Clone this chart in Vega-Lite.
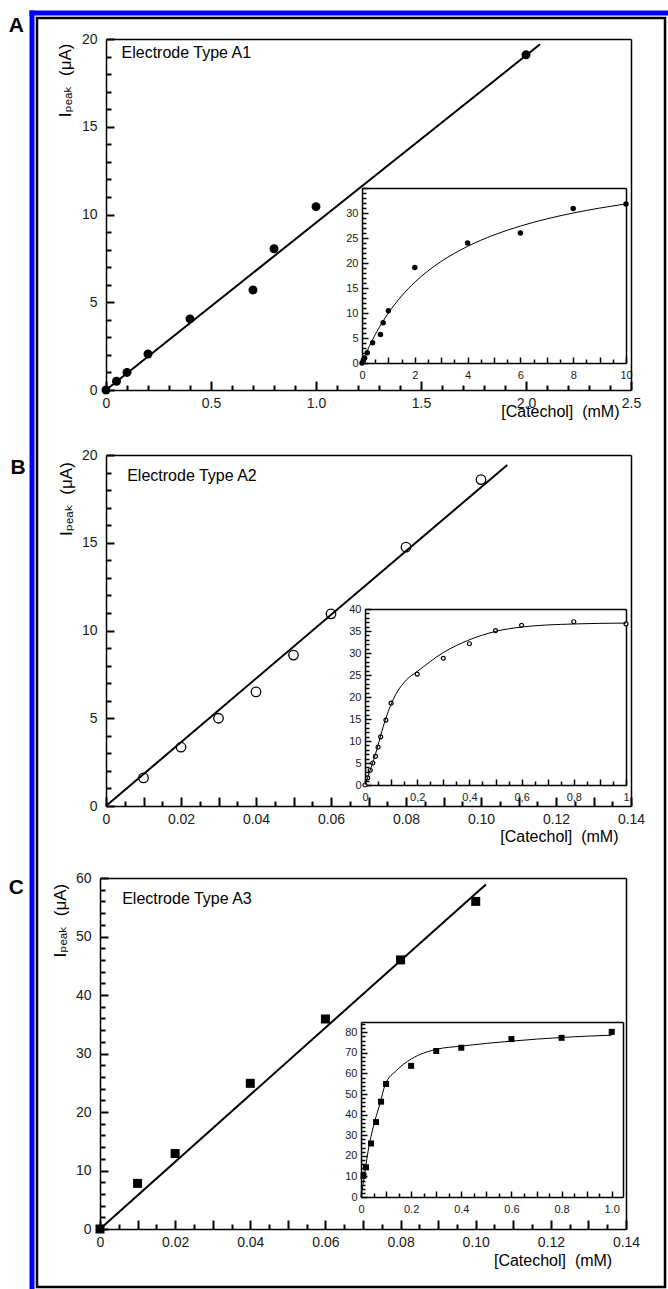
{
  "$schema": "https://vega.github.io/schema/vega-lite/v6.json",
  "width": 628,
  "height": 1269,
  "padding": {"left": 37, "top": 18, "right": 3, "bottom": 2},
  "autosize": {"type": "none"},
  "background": "white",
  "config": {
    "view": {"stroke": "#000", "strokeWidth": 2.5},
    "axis": {"grid": false, "domainColor": "#000", "domainWidth": 1.5, "labelFont": "Liberation Sans", "labelColor": "#1a1a1a", "labelFlush": false, "labelOverlap": false, "labelBound": false, "titleFont": "Liberation Sans", "titleFontWeight": "normal", "titleColor": "#000"}
  },
  "resolve": {"scale": {"x": "independent", "y": "independent"}, "axis": {"x": "independent", "y": "independent"}},
  "layer": [
    {
      "data": {"values": [{"c": 0, "i": 0}, {"c": 2.067, "i": 19.7}]},
      "mark": {"type": "line", "opacity": 0},
      "encoding": {
        "x": {"field": "c", "type": "quantitative", "scale": {"domain": [0, 1], "range": [-5.5, 631], "nice": false, "zero": false},
          "axis": {"orient": "top", "offset": 5.5, "ticks": false, "labels": false, "title": null, "domainColor": "#0000ff", "domainWidth": 5, "domainCap": "square"}},
        "y": {"field": "i", "type": "quantitative", "scale": {"domain": [0, 1], "range": [1273, -5.5], "nice": false, "zero": false},
          "axis": {"orient": "left", "offset": 5.5, "ticks": false, "labels": false, "title": null, "domainColor": "#0000ff", "domainWidth": 5, "domainCap": "square"}}
      }
    },
    {
      "data": {"values": [{"c": 0, "i": 0}, {"c": 0.05, "i": 0.5}, {"c": 0.1, "i": 1.0}, {"c": 0.2, "i": 2.05}, {"c": 0.4, "i": 4.05}, {"c": 0.7, "i": 5.7}, {"c": 0.8, "i": 8.05}, {"c": 1.0, "i": 10.45}, {"c": 2.0, "i": 19.1}]},
      "mark": {"type": "point", "shape": "circle", "filled": true, "color": "#000", "opacity": 1, "size": 80},
      "encoding": {
        "x": {"field": "c", "type": "quantitative", "scale": {"domain": [0, 2.5], "range": [69, 594], "nice": false, "zero": false},
          "axis": {"orient": "bottom", "offset": -897, "values": [0,0.1,0.2,0.3,0.4,0.5,0.6,0.7,0.8,0.9,1,1.1,1.2,1.3,1.4,1.5,1.6,1.7,1.8,1.9,2,2.1,2.2,2.3,2.4,2.5],
            "ticks": true, "tickSize": -9, "tickColor": "#000", "tickWidth": 2,
            "tickDash": {"condition": {"test": "abs(datum.value*2-round(datum.value*2))>1e-6", "value": [5, 30]}, "value": [30, 1]},
            "labelExpr": "abs(datum.value*2-round(datum.value*2))<1e-6 ? (datum.value==0 ? '0' : format(datum.value,'.1f')) : ''",
            "labelFontSize": 14, "labelPadding": 15,
            "title": "[Catechol]\u00a0\u00a0(mM)", "titleFontSize": 16, "titleX": 582, "titleY": 26, "titleAlign": "right", "titleBaseline": "alphabetic", "titleAngle": 0}},
        "y": {"field": "i", "type": "quantitative", "scale": {"domain": [0, 20], "range": [372, 21], "nice": false, "zero": false},
          "axis": {"orient": "left", "offset": -69, "values": [0,1,2,3,4,5,6,7,8,9,10,11,12,13,14,15,16,17,18,19,20],
            "ticks": true, "tickSize": -8, "tickColor": "#000", "tickWidth": 2,
            "tickDash": {"condition": {"test": "datum.value % 5 != 0", "value": [5, 30]}, "value": [30, 1]},
            "labelExpr": "datum.value % 5 == 0 ? format(datum.value,'d') : ''",
            "labelFontSize": 14, "labelPadding": 17,
            "title": "Iₚₑₐₖ\u00a0\u00a0(μA)", "titleFont": "Liberation Sans, DejaVu Sans", "titleFontSize": 17, "titleX": -36, "titleY": 25, "titleAlign": "right", "titleBaseline": "alphabetic", "titleAngle": -90}}
      }
    },
    {
      "data": {"values": [{"c": 0, "i": 0}, {"c": 2.067, "i": 19.7}]},
      "mark": {"type": "line", "color": "#000", "strokeWidth": 2},
      "encoding": {
        "x": {"field": "c", "type": "quantitative", "scale": {"domain": [0, 2.5], "range": [69, 594], "nice": false, "zero": false},
          "axis": {"orient": "top", "offset": -21, "ticks": false, "labels": false,
            "title": "Electrode Type A1", "titleFontSize": 16, "titleX": 84, "titleY": 18.3, "titleAlign": "left", "titleBaseline": "alphabetic", "titleAngle": 0}},
        "y": {"field": "i", "type": "quantitative", "scale": {"domain": [0, 20], "range": [372, 21], "nice": false, "zero": false},
          "axis": {"orient": "right", "offset": -34, "ticks": false, "labels": false,
            "title": "A", "titleFont": "Liberation Sans", "titleFontSize": 21, "titleFontWeight": "bold", "titleX": -622.7, "titleY": 13.7, "titleAlign": "left", "titleBaseline": "alphabetic", "titleAngle": 0}}
      }
    },
    {
      "data": {"values": [{"c": 0, "i": 0}, {"c": 0.05, "i": 0.5}, {"c": 0.1, "i": 1.0}, {"c": 0.2, "i": 2.05}, {"c": 0.4, "i": 4.05}, {"c": 0.7, "i": 5.7}, {"c": 0.8, "i": 8.05}, {"c": 1.0, "i": 10.45}, {"c": 2.0, "i": 19.1}, {"c": 4.0, "i": 24.0}, {"c": 6.0, "i": 26.0}, {"c": 8.0, "i": 30.9}, {"c": 10.0, "i": 31.8}]},
      "mark": {"type": "point", "shape": "circle", "filled": true, "color": "#000", "opacity": 1, "size": 30},
      "encoding": {
        "x": {"field": "c", "type": "quantitative", "scale": {"domain": [0, 10], "range": [325, 589], "nice": false, "zero": false},
          "axis": {"orient": "bottom", "offset": -924, "values": [0,0.5,1,1.5,2,2.5,3,3.5,4,4.5,5,5.5,6,6.5,7,7.5,8,8.5,9,9.5,10],
            "ticks": true, "tickSize": -6, "tickColor": "#000", "tickWidth": 1.5,
            "tickDash": {"condition": {"test": "abs(datum.value-round(datum.value))>1e-6", "value": [4, 30]}, "value": [30, 1]},
            "labelExpr": "datum.value % 2 == 0 ? format(datum.value,'d') : ''",
            "labelFontSize": 11, "labelPadding": 12, "title": null}},
        "y": {"field": "i", "type": "quantitative", "scale": {"domain": [0, 35], "range": [345, 170], "nice": false, "zero": false},
          "axis": {"orient": "left", "offset": -325, "values": [0,1,2,3,4,5,6,7,8,9,10,11,12,13,14,15,16,17,18,19,20,21,22,23,24,25,26,27,28,29,30,31,32,33,34,35],
            "ticks": true, "tickSize": -6, "tickColor": "#000", "tickWidth": 1.5,
            "tickDash": {"condition": {"test": "datum.value % 5 != 0", "value": [4, 30]}, "value": [30, 1]},
            "labelExpr": "datum.value % 5 == 0 && datum.value <= 30 ? format(datum.value,'d') : ''",
            "labelFontSize": 11, "labelPadding": 10, "title": null}}
      }
    },
    {
      "data": {"values": [{"c": 0, "i": 0}, {"c": 0.25, "i": 3.04}, {"c": 0.5, "i": 5.68}, {"c": 0.75, "i": 7.97}, {"c": 1, "i": 10.0}, {"c": 1.5, "i": 13.4}, {"c": 2, "i": 16.15}, {"c": 2.5, "i": 18.42}, {"c": 3, "i": 20.32}, {"c": 4, "i": 23.33}, {"c": 5, "i": 25.61}, {"c": 6, "i": 27.39}, {"c": 7, "i": 28.82}, {"c": 8, "i": 30.0}, {"c": 9, "i": 30.98}, {"c": 10, "i": 31.82}]},
      "mark": {"type": "line", "color": "#000", "strokeWidth": 1, "interpolate": "monotone"},
      "encoding": {
        "x": {"field": "c", "type": "quantitative", "scale": {"domain": [0, 10], "range": [325, 589], "nice": false, "zero": false},
          "axis": {"orient": "top", "offset": -170, "ticks": false, "labels": false, "title": null}},
        "y": {"field": "i", "type": "quantitative", "scale": {"domain": [0, 35], "range": [345, 170], "nice": false, "zero": false},
          "axis": {"orient": "right", "offset": -39, "ticks": false, "labels": false, "title": null}}
      }
    },
    {
      "data": {"values": [{"c": 0.01, "i": 1.6}, {"c": 0.02, "i": 3.35}, {"c": 0.03, "i": 5.0}, {"c": 0.04, "i": 6.5}, {"c": 0.05, "i": 8.6}, {"c": 0.06, "i": 10.95}, {"c": 0.08, "i": 14.75}, {"c": 0.10, "i": 18.6}]},
      "mark": {"type": "point", "shape": "circle", "filled": true, "fill": "#fff", "stroke": "#000", "strokeWidth": 1.3, "opacity": 1, "size": 90},
      "encoding": {
        "x": {"field": "c", "type": "quantitative", "scale": {"domain": [0, 0.14], "range": [69, 594], "nice": false, "zero": false},
          "axis": {"orient": "bottom", "offset": -481, "values": [0,0.005,0.01,0.015,0.02,0.025,0.03,0.035,0.04,0.045,0.05,0.055,0.06,0.065,0.07,0.075,0.08,0.085,0.09,0.095,0.1,0.105,0.11,0.115,0.12,0.125,0.13,0.135,0.14],
            "ticks": true, "tickSize": -9, "tickColor": "#000", "tickWidth": 2,
            "tickDash": {"condition": {"test": "abs(datum.value*100-round(datum.value*100))>1e-6", "value": [5, 30]}, "value": [30, 1]},
            "labelExpr": "abs(datum.value*50-round(datum.value*50))<1e-6 ? (datum.value==0 ? '0' : format(datum.value,'.2f')) : ''",
            "labelFontSize": 14, "labelPadding": 15,
            "title": "[Catechol]\u00a0\u00a0(mM)", "titleFontSize": 16, "titleX": 581, "titleY": 35.7, "titleAlign": "right", "titleBaseline": "alphabetic", "titleAngle": 0}},
        "y": {"field": "i", "type": "quantitative", "scale": {"domain": [0, 20], "range": [788, 437], "nice": false, "zero": false},
          "axis": {"orient": "left", "offset": -69, "values": [0,1,2,3,4,5,6,7,8,9,10,11,12,13,14,15,16,17,18,19,20],
            "ticks": true, "tickSize": -8, "tickColor": "#000", "tickWidth": 2,
            "tickDash": {"condition": {"test": "datum.value % 5 != 0", "value": [5, 30]}, "value": [30, 1]},
            "labelExpr": "datum.value % 5 == 0 ? format(datum.value,'d') : ''",
            "labelFontSize": 14, "labelPadding": 17,
            "title": "Iₚₑₐₖ\u00a0\u00a0(μA)", "titleFont": "Liberation Sans, DejaVu Sans", "titleFontSize": 17, "titleX": -34.3, "titleY": 443.7, "titleAlign": "right", "titleBaseline": "alphabetic", "titleAngle": -90}}
      }
    },
    {
      "data": {"values": [{"c": 0, "i": 0}, {"c": 0.107, "i": 19.43}]},
      "mark": {"type": "line", "color": "#000", "strokeWidth": 2},
      "encoding": {
        "x": {"field": "c", "type": "quantitative", "scale": {"domain": [0, 0.14], "range": [69, 594], "nice": false, "zero": false},
          "axis": {"orient": "top", "offset": -437, "ticks": false, "labels": false,
            "title": "Electrode Type A2", "titleFontSize": 16, "titleX": 89.7, "titleY": 25, "titleAlign": "left", "titleBaseline": "alphabetic", "titleAngle": 0}},
        "y": {"field": "i", "type": "quantitative", "scale": {"domain": [0, 20], "range": [788, 437], "nice": false, "zero": false},
          "axis": {"orient": "right", "offset": -34, "ticks": false, "labels": false,
            "title": "B", "titleFont": "Liberation Sans", "titleFontSize": 21, "titleFontWeight": "bold", "titleX": -621, "titleY": 455.3, "titleAlign": "left", "titleBaseline": "alphabetic", "titleAngle": 0}}
      }
    },
    {
      "data": {"values": [{"c": 0, "i": 0}, {"c": 0.01, "i": 1.6}, {"c": 0.02, "i": 3.35}, {"c": 0.03, "i": 5.0}, {"c": 0.04, "i": 6.5}, {"c": 0.05, "i": 8.6}, {"c": 0.06, "i": 10.95}, {"c": 0.08, "i": 14.75}, {"c": 0.1, "i": 18.6}, {"c": 0.2, "i": 25.2}, {"c": 0.3, "i": 28.8}, {"c": 0.4, "i": 32.1}, {"c": 0.5, "i": 35.1}, {"c": 0.6, "i": 36.3}, {"c": 0.8, "i": 37.1}, {"c": 1.0, "i": 36.6}]},
      "mark": {"type": "point", "shape": "circle", "filled": true, "fill": "#fff", "stroke": "#000", "strokeWidth": 1.2, "opacity": 1, "size": 16},
      "encoding": {
        "x": {"field": "c", "type": "quantitative", "scale": {"domain": [0, 1], "range": [328, 589], "nice": false, "zero": false},
          "axis": {"orient": "bottom", "offset": -502, "values": [0,0.05,0.1,0.15,0.2,0.25,0.3,0.35,0.4,0.45,0.5,0.55,0.6,0.65,0.7,0.75,0.8,0.85,0.9,0.95,1],
            "ticks": true, "tickSize": -6, "tickColor": "#000", "tickWidth": 1.5,
            "tickDash": {"condition": {"test": "abs(datum.value*10-round(datum.value*10))>1e-6", "value": [4, 30]}, "value": [30, 1]},
            "labelExpr": "abs(datum.value*5-round(datum.value*5))<1e-6 ? (datum.value==0 ? '0' : datum.value==1 ? '1' : replace(format(datum.value,'.1f'),'.',',')) : ''",
            "labelFontSize": 11, "labelPadding": 12, "title": null}},
        "y": {"field": "i", "type": "quantitative", "scale": {"domain": [0, 40], "range": [767, 591], "nice": false, "zero": false},
          "axis": {"orient": "left", "offset": -328, "values": [0,1,2,3,4,5,6,7,8,9,10,11,12,13,14,15,16,17,18,19,20,21,22,23,24,25,26,27,28,29,30,31,32,33,34,35,36,37,38,39,40],
            "ticks": true, "tickSize": -6, "tickColor": "#000", "tickWidth": 1.5,
            "tickDash": {"condition": {"test": "datum.value % 5 != 0", "value": [4, 30]}, "value": [30, 1]},
            "labelExpr": "datum.value % 5 == 0 ? format(datum.value,'d') : ''",
            "labelFontSize": 11, "labelPadding": 10, "title": null}}
      }
    },
    {
      "data": {"values": [{"c": 0, "i": 0}, {"c": 0.045, "i": 8.0}, {"c": 0.07, "i": 13.3}, {"c": 0.096, "i": 17.8}, {"c": 0.121, "i": 20.9}, {"c": 0.159, "i": 23.9}, {"c": 0.2, "i": 25.8}, {"c": 0.3, "i": 30.1}, {"c": 0.4, "i": 33.0}, {"c": 0.5, "i": 34.9}, {"c": 0.6, "i": 35.9}, {"c": 0.8, "i": 36.6}, {"c": 1.0, "i": 36.8}]},
      "mark": {"type": "line", "color": "#000", "strokeWidth": 1, "interpolate": "monotone"},
      "encoding": {
        "x": {"field": "c", "type": "quantitative", "scale": {"domain": [0, 1], "range": [328, 589], "nice": false, "zero": false},
          "axis": {"orient": "top", "offset": -591, "ticks": false, "labels": false, "title": null}},
        "y": {"field": "i", "type": "quantitative", "scale": {"domain": [0, 40], "range": [767, 591], "nice": false, "zero": false},
          "axis": {"orient": "right", "offset": -39, "ticks": false, "labels": false, "title": null}}
      }
    },
    {
      "data": {"values": [{"c": 0, "i": 0}, {"c": 0.01, "i": 7.8}, {"c": 0.02, "i": 12.9}, {"c": 0.04, "i": 24.9}, {"c": 0.06, "i": 35.9}, {"c": 0.08, "i": 46.0}, {"c": 0.10, "i": 56.0}]},
      "mark": {"type": "point", "shape": "square", "filled": true, "color": "#000", "opacity": 1, "size": 81},
      "encoding": {
        "x": {"field": "c", "type": "quantitative", "scale": {"domain": [0, 0.14], "range": [63, 589], "nice": false, "zero": false},
          "axis": {"orient": "bottom", "offset": -58, "values": [0,0.005,0.01,0.015,0.02,0.025,0.03,0.035,0.04,0.045,0.05,0.055,0.06,0.065,0.07,0.075,0.08,0.085,0.09,0.095,0.1,0.105,0.11,0.115,0.12,0.125,0.13,0.135,0.14],
            "ticks": true, "tickSize": -9, "tickColor": "#000", "tickWidth": 2,
            "tickDash": {"condition": {"test": "abs(datum.value*100-round(datum.value*100))>1e-6", "value": [5, 30]}, "value": [30, 1]},
            "labelExpr": "abs(datum.value*50-round(datum.value*50))<1e-6 ? (datum.value==0 ? '0' : format(datum.value,'.2f')) : ''",
            "labelFontSize": 14, "labelPadding": 15,
            "title": "[Catechol]\u00a0\u00a0(mM)", "titleFontSize": 16, "titleX": 574.7, "titleY": 36, "titleAlign": "right", "titleBaseline": "alphabetic", "titleAngle": 0}},
        "y": {"field": "i", "type": "quantitative", "scale": {"domain": [0, 60], "range": [1211, 860], "nice": false, "zero": false},
          "axis": {"orient": "left", "offset": -63, "values": [0,2,4,6,8,10,12,14,16,18,20,22,24,26,28,30,32,34,36,38,40,42,44,46,48,50,52,54,56,58,60],
            "ticks": true, "tickSize": -8, "tickColor": "#000", "tickWidth": 2,
            "tickDash": {"condition": {"test": "datum.value % 10 != 0", "value": [5, 30]}, "value": [30, 1]},
            "labelExpr": "datum.value % 10 == 0 ? format(datum.value,'d') : ''",
            "labelFontSize": 14, "labelPadding": 17,
            "title": "Iₚₑₐₖ\u00a0\u00a0(μA)", "titleFont": "Liberation Sans, DejaVu Sans", "titleFontSize": 17, "titleX": -34.3, "titleY": 865.3, "titleAlign": "right", "titleBaseline": "alphabetic", "titleAngle": -90}}
      }
    },
    {
      "data": {"values": [{"c": 0, "i": 0}, {"c": 0.1027, "i": 58.9}]},
      "mark": {"type": "line", "color": "#000", "strokeWidth": 2},
      "encoding": {
        "x": {"field": "c", "type": "quantitative", "scale": {"domain": [0, 0.14], "range": [63, 589], "nice": false, "zero": false},
          "axis": {"orient": "top", "offset": -860, "ticks": false, "labels": false,
            "title": "Electrode Type A3", "titleFontSize": 16, "titleX": 84.7, "titleY": 25.3, "titleAlign": "left", "titleBaseline": "alphabetic", "titleAngle": 0}},
        "y": {"field": "i", "type": "quantitative", "scale": {"domain": [0, 60], "range": [1211, 860], "nice": false, "zero": false},
          "axis": {"orient": "right", "offset": -39, "ticks": false, "labels": false,
            "title": "C", "titleFont": "Liberation Sans", "titleFontSize": 21, "titleFontWeight": "bold", "titleX": -617.7, "titleY": 875.3, "titleAlign": "left", "titleBaseline": "alphabetic", "titleAngle": 0}}
      }
    },
    {
      "data": {"values": [{"c": 0.01, "i": 10.3}, {"c": 0.02, "i": 14.4}, {"c": 0.04, "i": 26.0}, {"c": 0.06, "i": 36.4}, {"c": 0.08, "i": 46.3}, {"c": 0.1, "i": 54.9}, {"c": 0.2, "i": 63.7}, {"c": 0.3, "i": 70.9}, {"c": 0.4, "i": 72.5}, {"c": 0.6, "i": 76.7}, {"c": 0.8, "i": 77.3}, {"c": 1.0, "i": 80.2}]},
      "mark": {"type": "point", "shape": "square", "filled": true, "color": "#000", "opacity": 1, "size": 36},
      "encoding": {
        "x": {"field": "c", "type": "quantitative", "scale": {"domain": [0, 1.045], "range": [324, 586], "nice": false, "zero": false},
          "axis": {"orient": "bottom", "offset": -90, "values": [0,0.05,0.1,0.15,0.2,0.25,0.3,0.35,0.4,0.45,0.5,0.55,0.6,0.65,0.7,0.75,0.8,0.85,0.9,0.95,1],
            "ticks": true, "tickSize": -6, "tickColor": "#000", "tickWidth": 1.5,
            "tickDash": {"condition": {"test": "abs(datum.value*10-round(datum.value*10))>1e-6", "value": [4, 30]}, "value": [30, 1]},
            "labelExpr": "abs(datum.value*5-round(datum.value*5))<1e-6 ? (datum.value==0 ? '0' : format(datum.value,'.1f')) : ''",
            "labelFontSize": 11, "labelPadding": 12, "title": null}},
        "y": {"field": "i", "type": "quantitative", "scale": {"domain": [0, 85], "range": [1179, 1004], "nice": false, "zero": false},
          "axis": {"orient": "left", "offset": -324, "values": [0,2,4,6,8,10,12,14,16,18,20,22,24,26,28,30,32,34,36,38,40,42,44,46,48,50,52,54,56,58,60,62,64,66,68,70,72,74,76,78,80,82,84],
            "ticks": true, "tickSize": -6, "tickColor": "#000", "tickWidth": 1.5,
            "tickDash": {"condition": {"test": "datum.value % 10 != 0", "value": [4, 30]}, "value": [30, 1]},
            "labelExpr": "datum.value % 10 == 0 ? format(datum.value,'d') : ''",
            "labelFontSize": 11, "labelPadding": 10, "title": null}}
      }
    },
    {
      "data": {"values": [{"c": 0, "i": 0}, {"c": 0.009, "i": 6.6}, {"c": 0.029, "i": 22.8}, {"c": 0.049, "i": 34.1}, {"c": 0.076, "i": 45.5}, {"c": 0.096, "i": 54.4}, {"c": 0.142, "i": 61.5}, {"c": 0.2, "i": 67.0}, {"c": 0.3, "i": 71.7}, {"c": 0.4, "i": 73.3}, {"c": 0.6, "i": 75.7}, {"c": 0.8, "i": 77.5}, {"c": 1.0, "i": 78.6}]},
      "mark": {"type": "line", "color": "#000", "strokeWidth": 1, "interpolate": "monotone"},
      "encoding": {
        "x": {"field": "c", "type": "quantitative", "scale": {"domain": [0, 1.045], "range": [324, 586], "nice": false, "zero": false},
          "axis": {"orient": "top", "offset": -1004, "ticks": false, "labels": false, "title": null}},
        "y": {"field": "i", "type": "quantitative", "scale": {"domain": [0, 85], "range": [1179, 1004], "nice": false, "zero": false},
          "axis": {"orient": "right", "offset": -42, "ticks": false, "labels": false, "title": null}}
      }
    }
  ]
}
